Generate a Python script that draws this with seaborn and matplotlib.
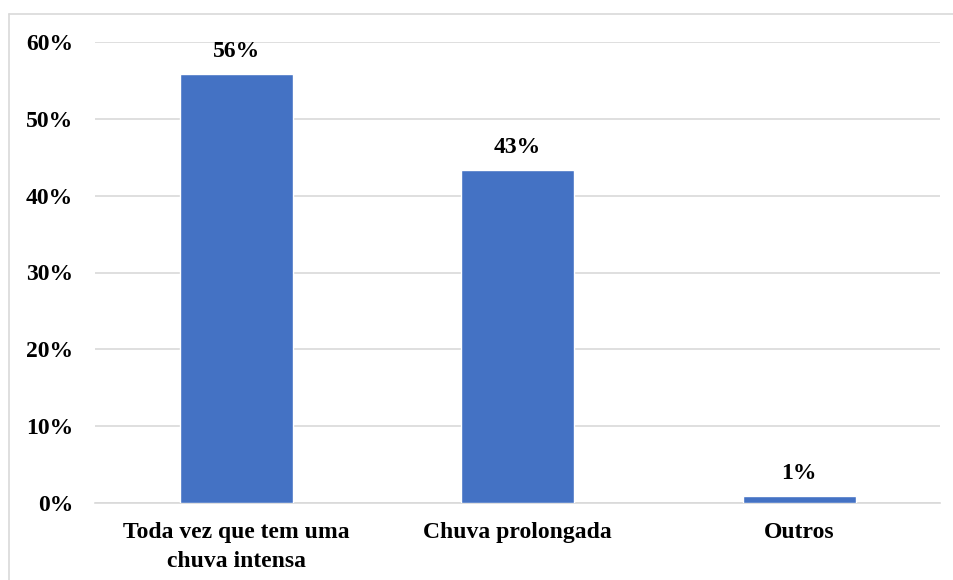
import matplotlib
matplotlib.use("Agg")
import matplotlib.pyplot as plt
import seaborn as sns
import pandas as pd
from matplotlib.lines import Line2D

categories = ["Toda vez que tem uma\nchuva intensa", "Chuva prolongada", "Outros"]
values = [55.8, 43.3, 0.9]
value_labels = ["56%", "43%", "1%"]
yticks = [0, 10, 20, 30, 40, 50, 60]
ytick_labels = ["0%", "10%", "20%", "30%", "40%", "50%", "60%"]

sns.set_theme(style="white")
plt.rcParams['font.family'] = ['Liberation Serif', 'DejaVu Serif']
plt.rcParams['font.weight'] = 'bold'

FS = 17

df = pd.DataFrame({"cat": categories, "val": values})

fig = plt.figure(figsize=(9.54, 5.8), dpi=100)
ax = fig.add_axes([95.5 / 954, 1 - 503 / 580, (940 - 95.5) / 954, (503 - 42) / 580])

sns.barplot(data=df, x="cat", y="val", color="#4472C4", saturation=1, width=0.4, ax=ax, zorder=3)

ax.set_ylim(0, 60)
ax.set_yticks(yticks)
ax.set_yticklabels(ytick_labels, fontsize=FS, fontweight='bold', color='black')
ax.set_xticklabels(categories, fontsize=FS, fontweight='bold', color='black', linespacing=1.45)
ax.set_xlabel("")
ax.set_ylabel("")
ax.yaxis.grid(True, color="#D9D9D9", linewidth=1.2, zorder=0)
ax.set_axisbelow(True)
for s in ["top", "right", "left"]:
    ax.spines[s].set_visible(False)
ax.spines["bottom"].set_color("#D9D9D9")
ax.spines["bottom"].set_linewidth(1.2)
ax.tick_params(axis='y', length=0, pad=16)
ax.tick_params(axis='x', length=0, pad=14)

for c, lab in zip(ax.containers[0], value_labels):
    ax.annotate(lab, (c.get_x() + c.get_width() / 2, c.get_height()), xytext=(0, 9),
                textcoords="offset points", ha="center", va="bottom",
                fontsize=FS, fontweight='bold', color='black')

# chart frame (left and top edges visible)
fig.add_artist(Line2D([9 / 954, 9 / 954], [0, 1 - 14 / 580], transform=fig.transFigure, color="#D9D9D9", lw=1.2))
fig.add_artist(Line2D([9 / 954, 1], [1 - 14 / 580, 1 - 14 / 580], transform=fig.transFigure, color="#D9D9D9", lw=1.2))

fig.savefig("out.png", dpi=100, facecolor="white")
